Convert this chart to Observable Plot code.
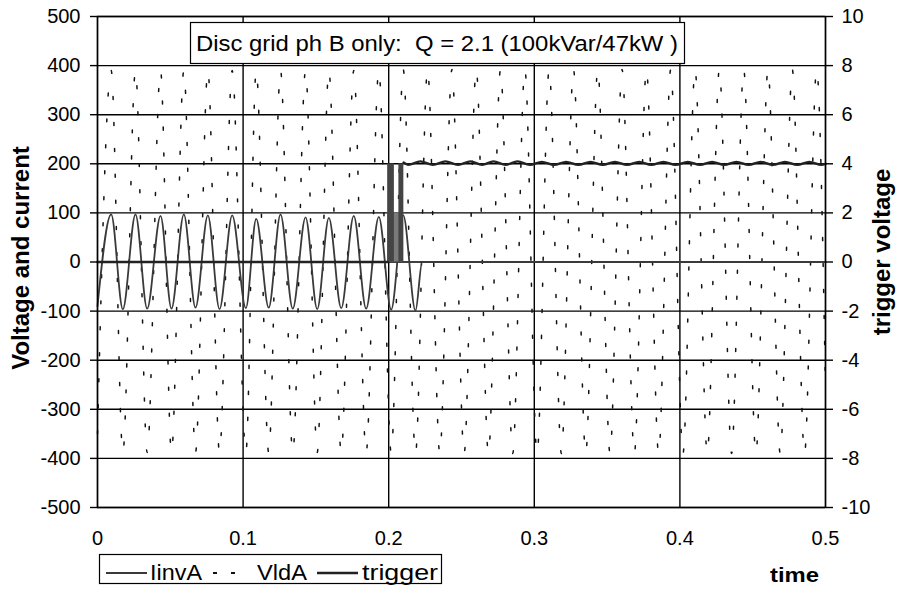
<!DOCTYPE html>
<html>
<head>
<meta charset="utf-8">
<script src="https://cdn.jsdelivr.net/npm/d3@7"></script>
<script src="https://cdn.jsdelivr.net/npm/@observablehq/plot@0.6"></script>
<style>
  html, body { margin: 0; padding: 0; background: #fff; }
  #wrap { position: relative; width: 897px; height: 590px; font-family: "Liberation Sans", Arial, sans-serif; }
  #wrap > svg { position: absolute; left: 0; top: 0; }
  #overlay { pointer-events: none; }
</style>
</head>
<body>
<div id="wrap"></div>
<script>
// ---------- data ----------
const xTicks = [0, 0.1, 0.2, 0.3, 0.4, 0.5];
const yTicks = [-500, -400, -300, -200, -100, 0, 100, 200, 300, 400, 500];
const trigTicks = [-10, -8, -6, -4, -2, 0, 2, 4, 6, 8, 10];

// IinvA: start, then alternating peaks / troughs, then zero after disconnection
const iinvTime = [0, 0.0094, 0.0174, 0.0261, 0.0341, 0.0433, 0.0508, 0.0593, 0.0673, 0.0758, 0.0838,
  0.0925, 0.1019, 0.1090, 0.1176, 0.1257, 0.1341, 0.1429, 0.1509, 0.1589, 0.1674, 0.1760, 0.1845,
  0.1932, 0.2017, 0.2100, 0.2184, 0.2230, 0.5];
const iinvValue = [-90, 97, -96, 97, -95, 94, -95, 97, -93, 95, -96, 95, -94, 88, -93, 97, -95,
  91, -96, 90, -94, 94, -95, 92, -97, 95, -99, 0, 0];

// VldA: start, alternating peaks / troughs over the whole run
const vldaTime = [0, 0.0094, 0.0174, 0.0261, 0.0341, 0.0433, 0.0508, 0.0593, 0.0673, 0.0758, 0.0838,
  0.0925, 0.1019, 0.1090, 0.1176, 0.1257, 0.1341, 0.1429, 0.1509, 0.1589, 0.1674, 0.1760, 0.1845,
  0.1932, 0.2017, 0.2100, 0.2184, 0.2267, 0.2351, 0.2434, 0.2518, 0.2601, 0.2685, 0.2768, 0.2852,
  0.2935, 0.3019, 0.3102, 0.3186, 0.3269, 0.3353, 0.3436, 0.3520, 0.3603, 0.3687, 0.3770, 0.3854,
  0.3937, 0.4021, 0.4104, 0.4188, 0.4271, 0.4355, 0.4438, 0.4522, 0.4605, 0.4689, 0.4772, 0.4856,
  0.4939, 0.5];
const vldaValue = [-350, 390, -388, 390, -388, 390, -388, 390, -388, 390, -388, 390, -388, 390, -388,
  390, -388, 390, -388, 390, -388, 390, -388, 390, -388, 392, -390, 392, -390, 392, -390, 392, -390,
  392, -390, 392, -390, 392, -390, 392, -390, 392, -390, 392, -390, 392, -390, 392, -390, 392, -390,
  392, -390, 392, -390, 392, -390, 392, -390, 392, -257];

// trigger (right axis): zero, gap across the switching burst, then ~4 with ripple
const trigTime = [0, 0.1993, 0.2000, 0.2102, 0.2134, 0.2218, 0.2304, 0.2390, 0.2476, 0.2562, 0.2641,
  0.2720, 0.2803, 0.2885, 0.2969, 0.3052, 0.3136, 0.3219, 0.3303, 0.3386, 0.3470, 0.3553, 0.3637,
  0.3720, 0.3804, 0.3887, 0.3971, 0.4054, 0.4138, 0.4221, 0.4305, 0.4388, 0.4472, 0.4555, 0.4639,
  0.4722, 0.4806, 0.4889, 0.4972, 0.5];
const trigValue = [0, 0, NaN, 4.05, 3.96, 4.1, 3.96, 4.1, 3.96, 4.1, 3.96, 4.1, 3.96, 4.1, 3.96,
  4.08, 3.96, 4.08, 3.96, 4.08, 3.96, 4.08, 3.96, 4.08, 3.96, 4.08, 3.96, 4.08, 3.96, 4.08, 3.96,
  4.08, 3.96, 4.08, 3.96, 4.08, 3.96, 4.08, 3.96, 4.0];

// switching burst of the trigger signal (start, end, level)
const burstStart = [0.1993, 0.1993, 0.2070];
const burstEnd   = [0.2102, 0.2039, 0.2104];
const burstLevel = [2, 4, 4];

const legendNames = ["IinvA", "VldA", "trigger"];
const titleText = "Disc grid ph B only:  Q = 2.1 (100kVar/47kW )";

// ---------- tables ----------
const trigToY = 50; // 10 on the right axis == 500 on the left axis
const iinv = iinvTime.map((t, i) => ({t, v: iinvValue[i]}));
const vlda = vldaTime.map((t, i) => ({t, v: vldaValue[i]}));
const trig = trigTime.map((t, i) => ({t, v: trigValue[i] * trigToY}));
const bursts = burstStart.map((t0, i) => ({t0, t1: burstEnd[i], v: burstLevel[i] * trigToY, mid: burstLevel[i] < 4}));

const font = "Liberation Sans, Arial, sans-serif";

const chart = Plot.plot({
  width: 897,
  height: 590,
  marginLeft: 97,
  marginRight: 72,
  marginTop: 16,
  marginBottom: 83,
  style: {fontFamily: font, fontSize: "20px", color: "#000", background: "#fff", overflow: "visible"},
  x: {domain: [0, 0.5], label: null},
  y: {domain: [-500, 500], label: null},
  marks: [
    Plot.ruleY(yTicks, {stroke: "#000", strokeWidth: 1.4}),
    Plot.ruleX(xTicks, {stroke: "#000", strokeWidth: 1.4}),
    Plot.line(vlda, {x: "t", y: "v", curve: "monotone-x", stroke: "#111", strokeWidth: 1.5, strokeDasharray: "3,23"}),
    Plot.line(iinv, {x: "t", y: "v", curve: "monotone-x", stroke: "#3a3a3a", strokeWidth: 1.8}),
    Plot.rect(bursts, {x1: "t0", x2: "t1", y1: 0, y2: "v", fill: d => d.mid ? "#7a7a7a" : "#444"}),
    Plot.line(trig, {x: "t", y: "v", curve: "monotone-x", stroke: "#222", strokeWidth: 2.4}),
    Plot.frame({stroke: "#000", strokeWidth: 1.4}),
    Plot.axisY({ticks: yTicks, tickFormat: d => String(d), tickSize: 7, tickPadding: 10, fontSize: 20, strokeWidth: 1.4, label: null}),
    Plot.axisY({anchor: "right", ticks: trigTicks.map(d => d * trigToY), tickFormat: d => String(d / trigToY), tickSize: 7, tickPadding: 9, fontSize: 20, strokeWidth: 1.4, label: null}),
    Plot.axisX({ticks: xTicks, tickFormat: d => String(d), tickSize: 0, tickPadding: 23, fontSize: 20, label: null})
  ]
});

const wrap = document.getElementById("wrap");
wrap.appendChild(chart);

// ---------- overlay: title box, axis titles, legend ----------
const ov = d3.select(wrap).append("svg")
  .attr("id", "overlay")
  .attr("width", 897).attr("height", 590)
  .style("font-family", font);

// title box
ov.append("rect").attr("x", 190.5).attr("y", 22.5).attr("width", 494).attr("height", 41)
  .attr("fill", "#fff").attr("stroke", "#000").attr("stroke-width", 1.2);
ov.append("text").attr("x", 196).attr("y", 51).attr("font-size", 22)
  .attr("textLength", 482).attr("lengthAdjust", "spacingAndGlyphs")
  .style("white-space", "pre").attr("xml:space", "preserve")
  .text(titleText);

// axis titles
ov.append("text").attr("transform", "translate(29,258) rotate(-90)")
  .attr("text-anchor", "middle").attr("font-size", 24).attr("font-weight", "bold")
  .text("Voltage and current");
ov.append("text").attr("transform", "translate(890,252) rotate(-90)")
  .attr("text-anchor", "middle").attr("font-size", 24).attr("font-weight", "bold")
  .text("trigger voltage");
ov.append("text").attr("x", 770).attr("y", 582).attr("font-size", 21).attr("font-weight", "bold")
  .attr("textLength", 49).attr("lengthAdjust", "spacingAndGlyphs")
  .text("time");

// legend
const lg = ov.append("g");
lg.append("rect").attr("x", 99.5).attr("y", 554.5).attr("width", 342).attr("height", 29)
  .attr("fill", "#fff").attr("stroke", "#000").attr("stroke-width", 1.2);
// IinvA sample
lg.append("line").attr("x1", 106).attr("x2", 147).attr("y1", 573).attr("y2", 573)
  .attr("stroke", "#3a3a3a").attr("stroke-width", 1.8);
lg.append("text").attr("x", 150).attr("y", 580).attr("font-size", 22)
  .attr("textLength", 52).attr("lengthAdjust", "spacingAndGlyphs").text(legendNames[0]);
// VldA sample
lg.append("line").attr("x1", 213).attr("x2", 240).attr("y1", 573).attr("y2", 573)
  .attr("stroke", "#111").attr("stroke-width", 1.8).attr("stroke-dasharray", "4,14");
lg.append("text").attr("x", 257).attr("y", 580).attr("font-size", 22)
  .attr("textLength", 50).attr("lengthAdjust", "spacingAndGlyphs").text(legendNames[1]);
// trigger sample
lg.append("line").attr("x1", 317).attr("x2", 358).attr("y1", 573).attr("y2", 573)
  .attr("stroke", "#222").attr("stroke-width", 2.4);
lg.append("text").attr("x", 362).attr("y", 580).attr("font-size", 22)
  .attr("textLength", 76).attr("lengthAdjust", "spacingAndGlyphs").text(legendNames[2]);
</script>
</body>
</html>
